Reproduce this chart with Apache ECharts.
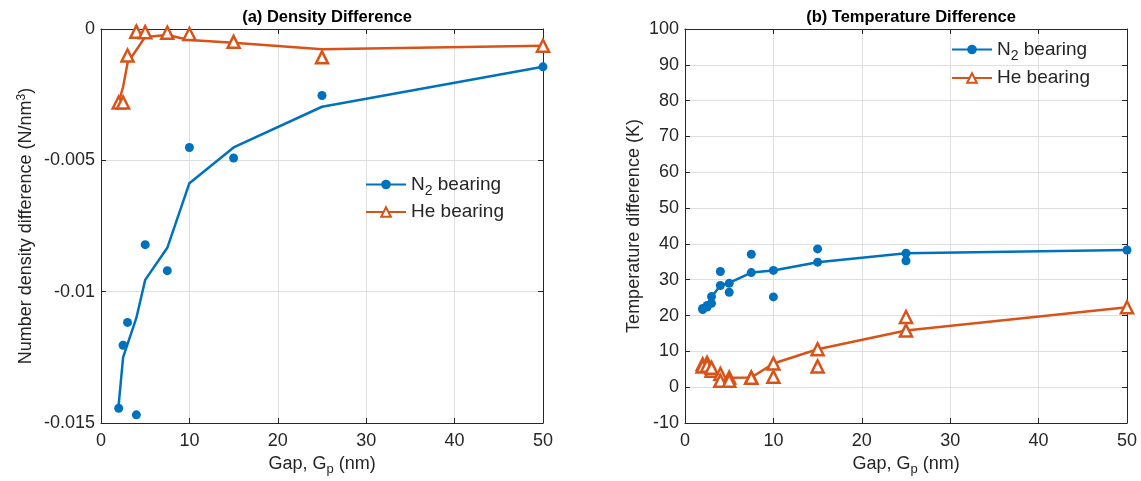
<!DOCTYPE html>
<html>
<head>
<meta charset="utf-8">
<script src="https://cdn.jsdelivr.net/npm/echarts@6/dist/echarts.min.js"></script>
<style>
  html, body { margin: 0; padding: 0; background: #fff; }
  #chart { width: 1141px; height: 481px; }
</style>
</head>
<body>
<div id="chart"></div>
<script>
// gap values (nm)
var gaps = [2, 2.5, 3, 4, 5, 7.5, 10, 15, 25, 50];
var gapsB = [2, 2.5, 3, 4, 5, 7.5, 10, 15, 25];

// (a) density difference (N/nm^3)
var n2DensityFit = [-0.0143, -0.0125, -0.0120, -0.0110, -0.00955, -0.00833, -0.00587, -0.00451, -0.00296, -0.00144];
var n2DensityPts = [-0.01444, -0.01204, -0.01117, -0.01469, -0.00821, -0.0092, -0.00451, -0.00491, -0.00253, -0.00144];
var heDensityFit = [-0.0028, -0.0022, -0.0013, -0.0008, -0.0003, -0.00023, -0.00042, -0.00052, -0.00077, -0.00064];
var heDensityPts = [-0.0028, -0.0028, -0.00101, -0.0001, -0.00012, -0.00014, -0.00019, -0.00049, -0.00108, -0.00064];

// (b) temperature difference (K)
var n2TempFit = [21.7, 23.1, 25.2, 28.4, 29.1, 32.0, 32.6, 34.9, 37.4, 38.3];
var n2TempPtsA = [21.7, 22.8, 25.3, 28.4, 29.0, 32.0, 32.6, 34.9, 37.4, 38.3];
var n2TempPtsB = [22.0, 22.4, 23.4, 32.3, 26.5, 37.1, 25.2, 38.6, 35.3];
var heTempFit = [6.3, 6.4, 4.8, 2.7, 2.6, 2.7, 6.6, 10.6, 15.8, 22.3];
var heTempPtsA = [6.4, 6.8, 4.6, 3.7, 2.7, 2.7, 6.6, 10.6, 15.8, 22.3];
var heTempPtsB = [5.8, 6.0, 5.4, 1.8, 1.8, 2.6, 2.9, 5.8, 19.6];

var xTicks = { min: 0, max: 50, interval: 10 };
var densityTicks = { min: -0.015, max: 0, interval: 0.005 };
var tempTicks = { min: -10, max: 100, interval: 10 };

var BLUE = '#0072BD';
var ORANGE = '#D95319';
var INK = '#262626';
var FONT = '"Liberation Sans", Arial, sans-serif';

function pairs(xs, ys) {
  return xs.map(function (x, i) { return [x, ys[i]]; });
}

function mainX(grid) {
  return {
    type: 'value', gridIndex: grid, min: xTicks.min, max: xTicks.max, interval: xTicks.interval,
    name: '{t|Gap, G}{sub|p}{t| (nm)}', nameLocation: 'middle', nameGap: 29,
    nameTextStyle: { rich: {
      t: { fontSize: 18, color: INK, fontFamily: FONT },
      sub: { fontSize: 13, color: INK, fontFamily: FONT, verticalAlign: 'bottom', padding: [11, 0, 0, 0] }
    } },
    axisLine: { onZero: false, lineStyle: { color: INK } },
    axisTick: { inside: true, length: 5, lineStyle: { color: INK } },
    axisLabel: { fontSize: 18, color: INK, fontFamily: FONT, margin: 9 },
    splitLine: { show: true, lineStyle: { color: '#dedede' } }
  };
}
function boxAxis(grid, pos, t) {
  return {
    type: 'value', gridIndex: grid, position: pos, min: t.min, max: t.max, interval: t.interval,
    axisLine: { show: true, onZero: false, lineStyle: { color: INK } },
    axisTick: { show: true, inside: true, length: 5, lineStyle: { color: INK } },
    axisLabel: { show: false }, splitLine: { show: false }
  };
}
function mainY(grid, t, name, gap) {
  return {
    type: 'value', gridIndex: grid, min: t.min, max: t.max, interval: t.interval,
    name: name, nameLocation: 'middle', nameGap: gap,
    nameTextStyle: { rich: {
      t: { fontSize: 18, color: INK, fontFamily: FONT },
      sup: { fontSize: 12, color: INK, fontFamily: FONT, verticalAlign: 'top', padding: [0, 0, 9, 0] }
    } },
    axisLine: { show: true, onZero: false, lineStyle: { color: INK } },
    axisTick: { show: true, inside: true, length: 5, lineStyle: { color: INK } },
    axisLabel: { fontSize: 18, color: INK, fontFamily: FONT, margin: 6 },
    splitLine: { show: true, lineStyle: { color: '#dedede' } }
  };
}

function lineSeries(name, xi, yi, data, isHe) {
  return {
    name: name, type: 'line', xAxisIndex: xi, yAxisIndex: yi,
    data: data, showSymbol: false, z: 3,
    symbol: isHe ? 'triangle' : 'circle',
    itemStyle: isHe ? { color: '#fff', borderColor: ORANGE, borderWidth: 2 } : { color: BLUE },
    lineStyle: { color: isHe ? ORANGE : BLUE, width: 2.5 },
    animation: false
  };
}
function dots(name, xi, yi, data, isHe) {
  return {
    name: name, type: 'scatter', xAxisIndex: xi, yAxisIndex: yi, data: data, z: 4,
    symbol: isHe ? 'triangle' : 'circle',
    symbolSize: isHe ? 12 : 9,
    itemStyle: isHe ? { color: '#fff', borderColor: ORANGE, borderWidth: 2.5, opacity: 1 } : { color: BLUE, opacity: 1 },
    animation: false
  };
}

var legendText = function (name) {
  return name === 'N2 bearing' ? '{t|N}{sub|2}{t| bearing}' : '{t|He bearing}';
};
var legendRich = {
  t: { fontSize: 19, color: INK, fontFamily: FONT },
  sub: { fontSize: 14, color: INK, fontFamily: FONT, verticalAlign: 'bottom', padding: [14, 0, 0, 0] }
};

var myChart = echarts.init(document.getElementById('chart'));
var option = {
  backgroundColor: '#fff',
  animation: false,
  title: [
    { text: '(a) Density Difference', left: 322, top: 4, textAlign: 'center',
      textStyle: { fontSize: 16.5, fontWeight: 'bold', color: '#000', fontFamily: FONT } },
    { text: '(b) Temperature Difference', left: 906, top: 4, textAlign: 'center',
      textStyle: { fontSize: 16.5, fontWeight: 'bold', color: '#000', fontFamily: FONT } }
  ],
  legend: [
    { data: ['N2 bearing', 'He bearing'], left: 360, top: 170, orient: 'vertical',
      itemWidth: 40, itemHeight: 12, itemGap: 4, formatter: legendText,
      textStyle: { rich: legendRich }, selectedMode: false },
    { data: ['N2 bearing', 'He bearing'], left: 946, top: 35, orient: 'vertical',
      itemWidth: 40, itemHeight: 12, itemGap: 5, formatter: legendText,
      textStyle: { rich: legendRich }, selectedMode: false }
  ],
  grid: [
    { left: 101, right: 598, top: 29, bottom: 55 },
    { left: 685, right: 14, top: 29, bottom: 55 }
  ],
  xAxis: [
    mainX(0), mainX(1),
    boxAxis(0, 'top', xTicks), boxAxis(1, 'top', xTicks)
  ],
  yAxis: [
    mainY(0, densityTicks, '{t|Number density difference (N/nm}{sup|3}{t|)}', 64),
    mainY(1, tempTicks, '{t|Temperature difference (K)}', 42),
    boxAxis(0, 'right', densityTicks), boxAxis(1, 'right', tempTicks)
  ],
  series: [
    lineSeries('N2 bearing', 0, 0, pairs(gaps, n2DensityFit), false),
    lineSeries('He bearing', 0, 0, pairs(gaps, heDensityFit), true),
    dots('n2 density pts', 0, 0, pairs(gaps, n2DensityPts), false),
    dots('he density pts', 0, 0, pairs(gaps, heDensityPts), true),

    lineSeries('N2 bearing', 1, 1, pairs(gaps, n2TempFit), false),
    lineSeries('He bearing', 1, 1, pairs(gaps, heTempFit), true),
    dots('n2 temp pts a', 1, 1, pairs(gaps, n2TempPtsA), false),
    dots('n2 temp pts b', 1, 1, pairs(gapsB, n2TempPtsB), false),
    dots('he temp pts a', 1, 1, pairs(gaps, heTempPtsA), true),
    dots('he temp pts b', 1, 1, pairs(gapsB, heTempPtsB), true)
  ]
};
myChart.setOption(option);
</script>
</body>
</html>
